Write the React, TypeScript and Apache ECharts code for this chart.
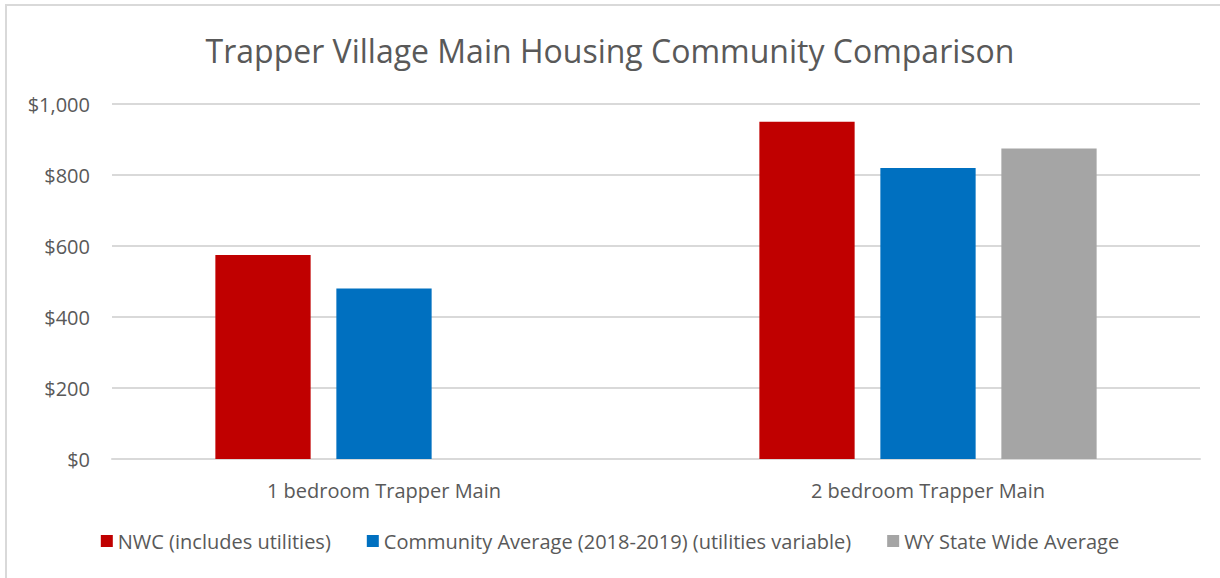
import React, { useEffect, useRef } from "react";
import * as echarts from "echarts";

const categories = ["1 bedroom Trapper Main", "2 bedroom Trapper Main"];
const nwc = [575, 950];
const community = [480, 820];
const wyState = [null, 875];
const seriesNames = [
  "NWC (includes utilities)",
  "Community Average (2018-2019) (utilities variable)",
  "WY State Wide Average",
];
const colors = ["#C00000", "#0070C0", "#A5A5A5"];

export default function App() {
  const ref = useRef<HTMLDivElement>(null);
  useEffect(() => {
    const chart = echarts.init(ref.current!, undefined, { renderer: "svg" });
    const font = "'Open Sans', Lato, sans-serif";
    const mk = (name: string, data: any[], color: string) => ({
      name,
      type: "bar",
      data,
      barGap: "27%",
      barCategoryGap: "38%",
      itemStyle: { color },
    });
    chart.setOption({
      animation: false,
      textStyle: { fontFamily: font },
      title: {
        text: "Trapper Village Main Housing Community Comparison",
        left: "center",
        top: 29,
        textStyle: { fontSize: 32, fontWeight: "normal", color: "#595959", fontFamily: font },
      },
      legend: {
        bottom: 22,
        left: "center",
        itemWidth: 12,
        itemHeight: 12,
        itemGap: 36,
        icon: "rect",
        textStyle: { fontSize: 20, color: "#595959", fontFamily: font },
        data: seriesNames,
      },
      graphic: [
        {
          type: "rect",
          shape: { x: 6, y: 5, width: 1230, height: 600 },
          style: { fill: "none", stroke: "#D9D9D9", lineWidth: 2 },
          silent: true,
        },
      ],
      grid: { left: 112, right: 20, top: 104, bottom: 119, containLabel: false },
      xAxis: {
        type: "category",
        data: categories,
        axisLine: { lineStyle: { color: "#D9D9D9", width: 2 } },
        axisTick: { show: false },
        axisLabel: { fontSize: 20, color: "#595959", margin: 21, fontFamily: font },
      },
      yAxis: {
        type: "value",
        min: 0,
        max: 1000,
        interval: 200,
        axisLine: { show: false },
        axisTick: { show: false },
        splitLine: { lineStyle: { color: "#D9D9D9", width: 2 } },
        axisLabel: {
          fontSize: 20,
          color: "#595959",
          margin: 22,
          fontFamily: font,
          formatter: (v: number) => "$" + v.toLocaleString("en-US"),
        },
      },
      series: [
        mk(seriesNames[0], nwc, colors[0]),
        mk(seriesNames[1], community, colors[1]),
        mk(seriesNames[2], wyState, colors[2]),
      ],
    });
    return () => chart.dispose();
  }, []);
  return (
    <div
      ref={ref}
      style={{ position: "absolute", left: 0, top: 0, width: 1220, height: 578, background: "#fff" }}
    />
  );
}
